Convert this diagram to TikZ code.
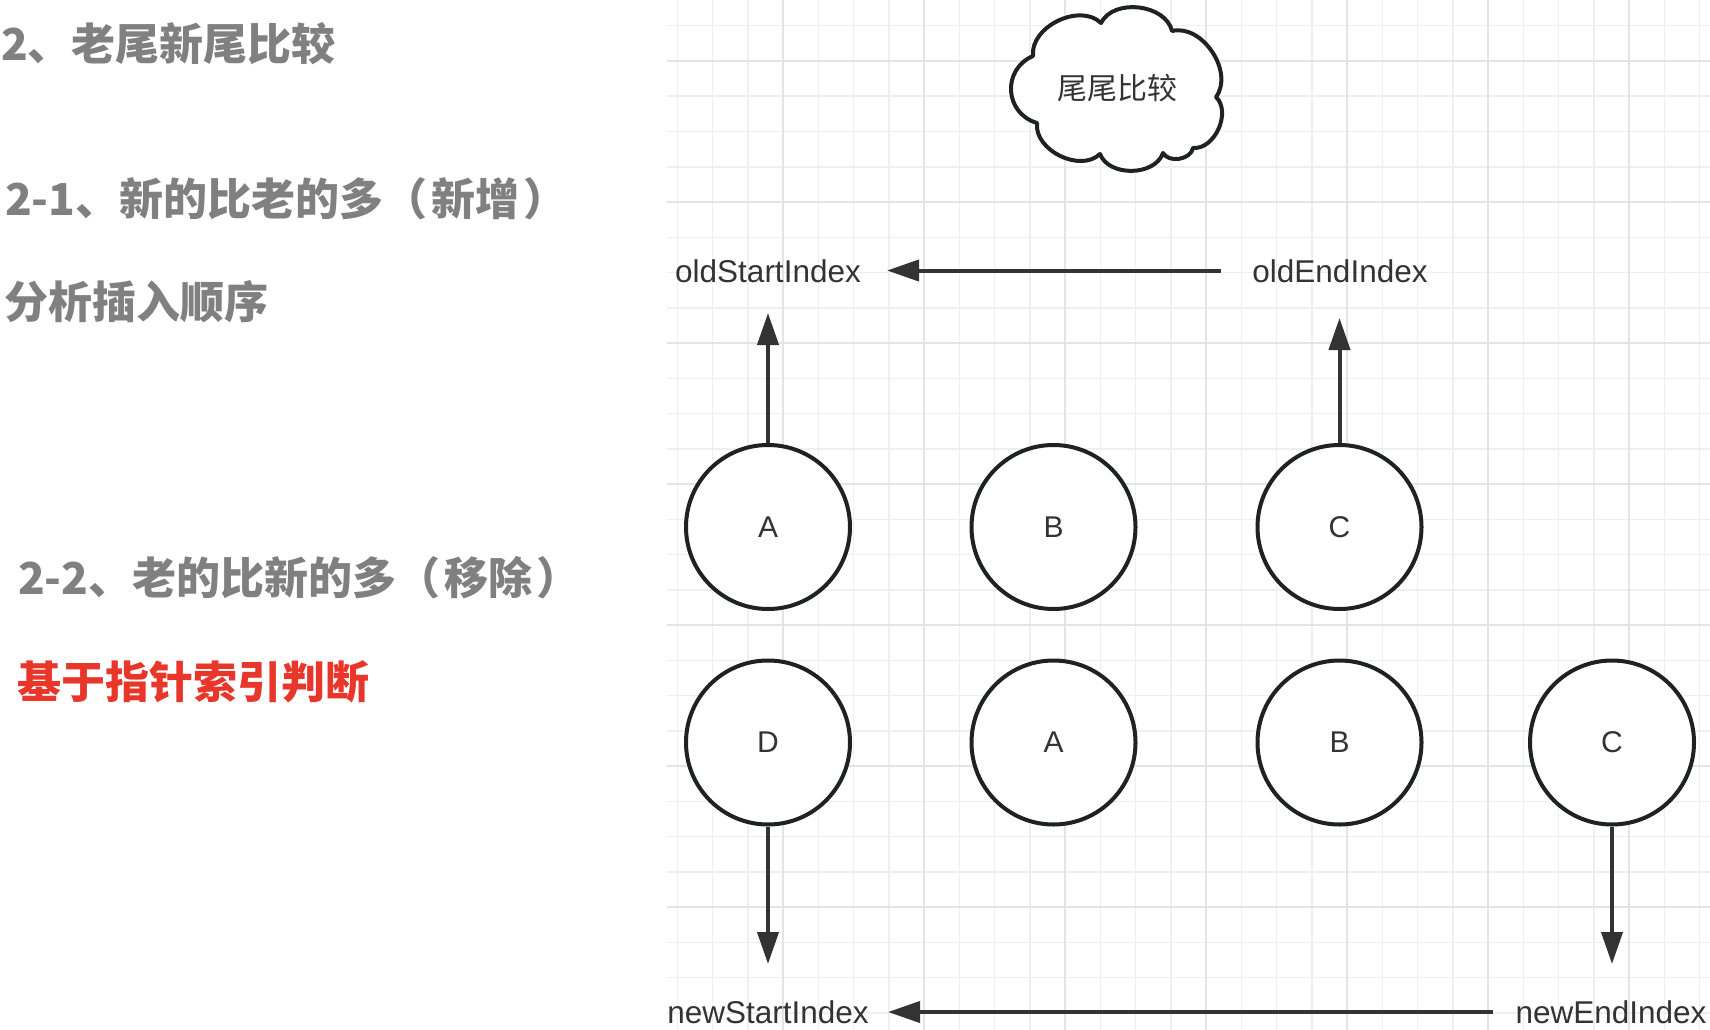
\documentclass[tikz,border=0pt]{standalone}
\usepackage{fontspec}
\setmainfont{Liberation Sans}
\newfontfamily\cjk{Noto Sans CJK SC}
\usetikzlibrary{arrows.meta}
\definecolor{headgray}{HTML}{808080}
\definecolor{headred}{HTML}{E8362A}
\definecolor{shapedark}{HTML}{1E2225}
\definecolor{arrowdark}{HTML}{333333}
\definecolor{txtdark}{HTML}{333333}
\definecolor{gridminor}{HTML}{EFEFEF}
\definecolor{gridmajor}{HTML}{E4E4E4}
\tikzset{
  minorline/.style={draw=gridminor, line width=1.5pt},
  majorline/.style={draw=gridmajor, line width=2.4pt},
  circ/.style={circle, draw=shapedark, line width=4pt, fill=white, minimum size=164pt,
    inner sep=0pt, font=\fontsize{30}{30}\selectfont, text=txtdark},
  lbl/.style={inner sep=0pt, font=\fontsize{31.5}{31.5}\selectfont, text=txtdark},
  conn/.style={draw=arrowdark, line width=4pt, -{Triangle[length=32pt,width=21pt]}},
  headtxt/.style={anchor=west, inner sep=0pt, font=\cjk\bfseries\fontsize{44}{44}\selectfont, text=headgray},
  cloudline/.style={draw=shapedark, line width=4pt, fill=white, line join=round},
}
\begin{document}
\begin{tikzpicture}[x=1pt,y=-1pt]
\useasboundingbox (0,0) rectangle (1710,1030);
\fill[white] (0,0) rectangle (1710,1030);
% grid
\foreach \k in {0,...,29}{
  \draw[minorline] ({677.25+35.25*\k},0) -- ({677.25+35.25*\k},1030);
}
\foreach \k in {0,...,28}{
  \draw[minorline] (667,{25.75+35.25*\k}) -- (1710,{25.75+35.25*\k});
}
\foreach \k in {3,7,...,27}{
  \draw[majorline] ({677.25+35.25*\k},0) -- ({677.25+35.25*\k},1030);
}
\foreach \k in {1,5,...,25}{
  \draw[majorline] (667,{25.75+35.25*\k}) -- (1710,{25.75+35.25*\k});
}
% left headings
\node[headtxt] (h1) at (1,44) {2、老尾新尾比较};
\node[headtxt] (h2) at (5,199) {2-1、新的比老的多（\kern4pt新增\kern4pt）};
\node[headtxt] (h3) at (4,302) {分析插入顺序};
\node[headtxt] (h4) at (18,578) {2-2、老的比新的多（\kern4pt移除\kern4pt）};
\node[headtxt, text=headred] (h5) at (17,682) {基于指针索引判断};
% cloud
\draw[cloudline] (1033,56) to[bend left=70] (1101,23)
  to[bend left=70] (1172,31)
  to[bend left=70] (1216,97)
  to[bend left=70] (1193,148)
  to[bend left=70] (1163,153)
  to[bend left=70] (1100,154)
  to[bend left=70] (1037,123)
  to[bend left=70, looseness=1.3] cycle;
\node[inner sep=0pt, font=\cjk\fontsize{30}{30}\selectfont, text=txtdark] (cl) at (1117,88) {尾尾比较};
% circles
\node[circ] (oA) at (768,527) {A};
\node[circ] (oB) at (1053.5,527) {B};
\node[circ] (oC) at (1339.5,527) {C};
\node[circ] (nD) at (768,742.5) {D};
\node[circ] (nA) at (1053.5,742.5) {A};
\node[circ] (nB) at (1339.5,742.5) {B};
\node[circ] (nC) at (1612,742.5) {C};
% labels
\node[lbl] (oldS) at (768,271) {oldStartIndex};
\node[lbl] (oldE) at (1340,271) {oldEndIndex};
\node[lbl] (newS) at (768,1012) {newStartIndex};
\node[lbl] (newE) at (1611,1012) {newEndIndex};
% arrow end points
\coordinate (tA) at (768,313);
\coordinate (tC) at (1339.5,318);
\coordinate (tD) at (768,964);
\coordinate (tNC) at (1612,964);
\coordinate (hTopS) at (1221,270.5);
\coordinate (hTopE) at (887,270.5);
\coordinate (hBotS) at (1493,1012);
\coordinate (hBotE) at (888,1012);
% connectors
\draw[conn] (oA) -- (tA);
\draw[conn] (oC) -- (tC);
\draw[conn] (nD) -- (tD);
\draw[conn] (nC) -- (tNC);
\draw[conn] (hTopS) -- (hTopE);
\draw[conn] (hBotS) -- (hBotE);
\end{tikzpicture}
\end{document}
